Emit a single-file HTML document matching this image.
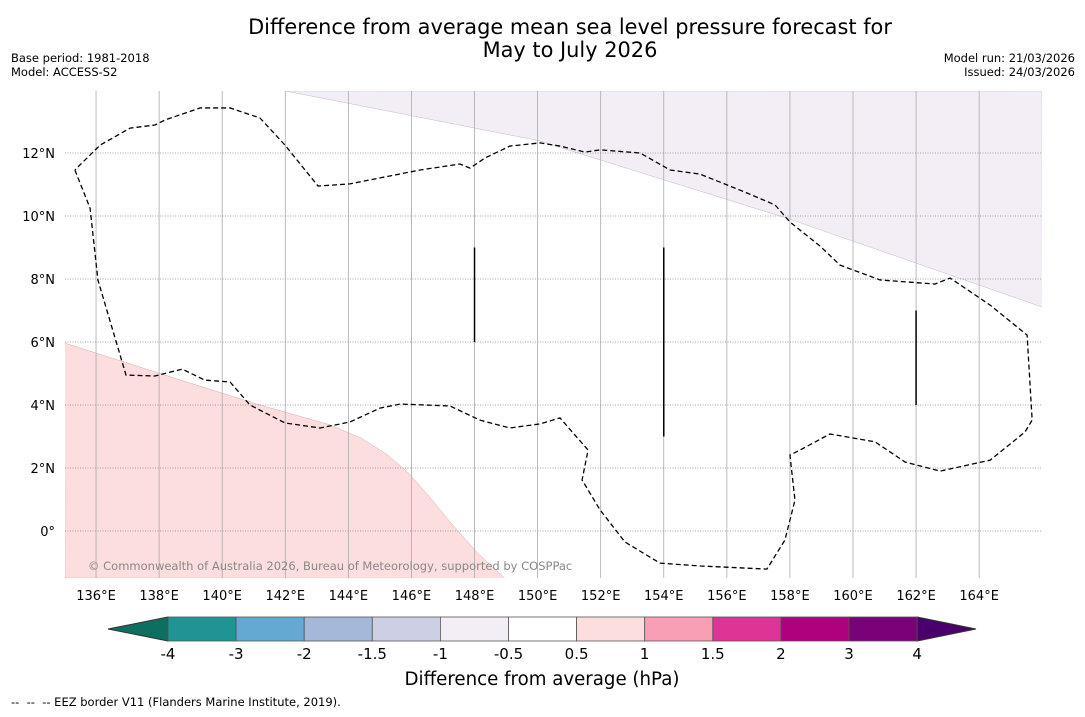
<!DOCTYPE html>
<html><head><meta charset="utf-8"><style>
body{margin:0;background:#fff;font-family:"DejaVu Sans","Liberation Sans",sans-serif}
</style></head><body>
<svg id="c" width="1085" height="713" xmlns="http://www.w3.org/2000/svg">
<rect width="1085" height="713" fill="#fff"/>
<text x="570" y="34" font-size="20.9" text-anchor="middle">Difference from average mean sea level pressure forecast for</text>
<text x="570" y="57" font-size="20.9" text-anchor="middle">May to July 2026</text>
<text x="11" y="62" font-size="11.5">Base period: 1981-2018</text>
<text x="11" y="76" font-size="11.5">Model: ACCESS-S2</text>
<text x="1075" y="62" font-size="11.5" text-anchor="end">Model run: 21/03/2026</text>
<text x="1075" y="76" font-size="11.5" text-anchor="end">Issued: 24/03/2026</text>
<g id="map"></g>
<g id="cb"></g>
<text x="542" y="685" font-size="18.2" text-anchor="middle">Difference from average (hPa)</text>
<text x="11" y="706" font-size="11.5" xml:space="preserve" style="white-space:pre">--  --  -- EEZ border V11 (Flanders Marine Institute, 2019).</text>
</svg>
<script>
const lonTicks=[136,138,140,142,144,146,148,150,152,154,156,158,160,162,164];
const latTicks=[0,2,4,6,8,10,12];
const eezLon=[135.33,135.81,136.06,136.95,137.87,138.73,139.45,140.25,140.88,141.99,143.10,144.05,145.00,145.64,147.22,148.17,149.12,150.08,150.71,151.60,151.41,151.98,152.77,153.88,155.15,157.27,157.84,158.16,158.00,158.32,159.27,160.70,161.65,162.76,164.35,165.45,165.68,165.52,164.35,163.08,162.60,160.86,159.59,158.95,158.00,157.53,156.57,155.15,154.20,153.25,151.98,151.50,150.71,150.08,149.12,148.33,147.86,147.54,146.27,144.05,143.04,141.99,141.20,140.25,139.30,138.19,137.87,137.08,136.13,135.49,135.33];
const eezLat=[11.46,10.25,7.97,4.95,4.92,5.14,4.79,4.73,4.00,3.43,3.27,3.46,3.90,4.03,3.97,3.52,3.27,3.40,3.59,2.57,1.62,0.67,-0.35,-1.02,-1.11,-1.21,-0.29,0.98,2.41,2.57,3.08,2.83,2.19,1.90,2.25,3.14,3.52,6.22,7.17,8.03,7.84,7.97,8.44,9.05,9.81,10.35,10.76,11.33,11.46,12.00,12.10,12.03,12.22,12.32,12.22,11.84,11.52,11.65,11.46,11.02,10.95,12.25,13.11,13.43,13.43,13.05,12.89,12.79,12.25,11.62,11.46];
const pinkLon=[135,138.97,141.2,143.42,144.4,145.2,145.9,146.6,147.3,148.1,148.96];
const pinkLat=[5.97,4.70,4.0,3.37,2.95,2.45,1.85,1.05,0.2,-0.7,-1.5];
const purpLon=[142,150,158,166];
const purpLat=[13.97,12.4,9.9,7.11];
const segLon=[148,154,162];
const segLat0=[6,3,4];
const segLat1=[9,9,7];
const cbColors=['#1f9494','#64a9d2','#a4b8d9','#cdd0e5','#f3eef5','#ffffff','#fddede','#f99fb5','#dd3497','#ae017e','#7a0177'];
const cbLabels=['-4','-3','-2','-1.5','-1','-0.5','0.5','1','1.5','2','3','4'];
const NS='http://www.w3.org/2000/svg';
const X=l=>64.5+(l-135)*31.54, Y=a=>153-(a-12)*31.5;
const L=65,R=1042,T=91,B=578;
function mk(t,a,p){const e=document.createElementNS(NS,t);for(const k in a)e.setAttribute(k,a[k]);p.appendChild(e);return e;}
const map=document.getElementById('map');
const cp=mk('clipPath',{id:'cl'},map);mk('rect',{x:L,y:T,width:R-L,height:B-T},cp);
const g=mk('g',{'clip-path':'url(#cl)'},map);
let p='M'+X(pinkLon[0])+','+Y(pinkLat[0]);pinkLon.forEach((l,i)=>p+=' L'+X(l)+','+Y(pinkLat[i]));p+=' L'+L+','+B+' Z';
let e=mk('path',{d:p,fill:'#fddede',stroke:'#c8b0b0','stroke-width':0.5},g);


p='M'+X(purpLon[0])+','+Y(purpLat[0]);purpLon.forEach((l,i)=>p+=' L'+X(l)+','+Y(purpLat[i]));p+=' L'+R+','+T+' Z';
e=mk('path',{d:p,fill:'#f3eef5',stroke:'#c0b8c4','stroke-width':0.5},g);


lonTicks.forEach(l=>{const ln=mk('line',{x1:X(l),x2:X(l),y1:T,y2:B,stroke:'#aaa','stroke-width':0.8},g);


const t=mk('text',{x:X(l),y:600,'font-size':13,'text-anchor':'middle'},map);t.textContent=l+'°E';

});
latTicks.forEach(a=>{const ln=mk('line',{x1:L,x2:R,y1:Y(a),y2:Y(a),stroke:'#888','stroke-width':0.8,'stroke-dasharray':'1,1.5'},g);


const t=mk('text',{x:55,y:Y(a)+5,'font-size':13,'text-anchor':'end'},map);t.textContent=a===0?'0°':a+'°N';

});
segLon.forEach((l,i)=>{const ln=mk('line',{x1:X(l),x2:X(l),y1:Y(segLat0[i]),y2:Y(segLat1[i]),stroke:'#000','stroke-width':1.5},g);

});
p='';eezLon.forEach((l,i)=>p+=(i?' L':'M')+X(l)+','+Y(eezLat[i]));
e=mk('path',{d:p,fill:'none',stroke:'#000','stroke-width':1.3,'stroke-dasharray':'5,3'},g);


e=mk('text',{x:88,y:570,'font-size':11.5,fill:'#888'},g);e.textContent='© Commonwealth of Australia 2026, Bureau of Meteorology, supported by COSPPac';


const cb=document.getElementById('cb');
const x0=168,w=68.1,cy0=617,ch=24;
e=mk('polygon',{points:`108,629 ${x0},${cy0} ${x0},${cy0+ch}`,fill:'#0e6f60',stroke:'#333'},cb);


const xe=x0+w*cbColors.length;
e=mk('polygon',{points:`${xe},${cy0} 976,629 ${xe},${cy0+ch}`,fill:'#49006a',stroke:'#333'},cb);


cbColors.forEach((c,i)=>{const r=mk('rect',{x:x0+i*w,y:cy0,width:w,height:ch,fill:c,stroke:'#555','stroke-width':0.8},cb);

});
cbLabels.forEach((s,i)=>{const t=mk('text',{x:x0+i*w,y:659,'font-size':15,'text-anchor':'middle'},cb);t.textContent=s;

});
</script>
</body></html>
